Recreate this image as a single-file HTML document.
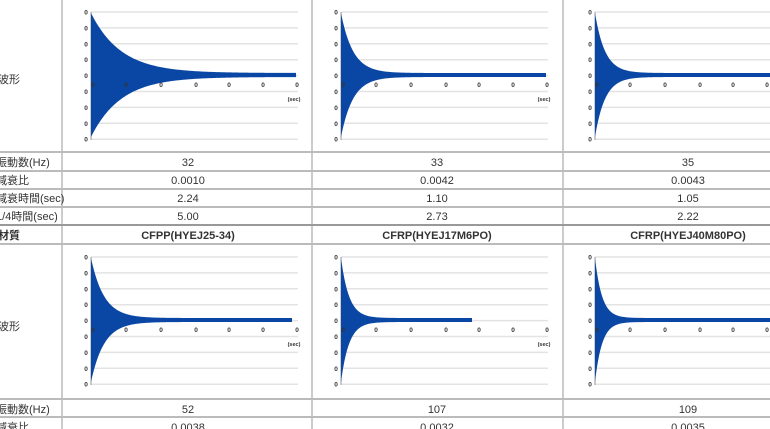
<!DOCTYPE html>
<html><head><meta charset="utf-8"><style>
html,body{margin:0;padding:0;background:#fff;width:770px;height:429px;overflow:hidden}
svg{display:block}
text{font-family:"Liberation Sans","Noto Sans CJK JP",sans-serif}
</style></head><body>
<svg id="s" width="770" height="429" xmlns="http://www.w3.org/2000/svg">
<g stroke="#999" stroke-width="1">
<line x1="62" y1="0" x2="62" y2="429"/><line x1="312" y1="0" x2="312" y2="429"/><line x1="563" y1="0" x2="563" y2="429"/>
</g>
<g stroke="#bbb" stroke-width="2">
<line x1="0" y1="152" x2="770" y2="152"/><line x1="0" y1="171" x2="770" y2="171"/><line x1="0" y1="189" x2="770" y2="189"/><line x1="0" y1="207" x2="770" y2="207"/>
<line x1="0" y1="225" x2="770" y2="225" stroke="#999"/><line x1="0" y1="244" x2="770" y2="244"/><line x1="0" y1="399" x2="770" y2="399"/><line x1="0" y1="417" x2="770" y2="417"/>
</g>
<g font-size="11" fill="#333">
<text x="-2" y="83">波形</text><text x="-2" y="330">波形</text>
<text x="-4" y="166">振動数(Hz)</text><text x="-4" y="184">減衰比</text><text x="-4" y="202">減衰時間(sec)</text><text x="-4" y="220">1/4時間(sec)</text>
<text x="-2" y="239" font-weight="bold">材質</text>
<text x="-4" y="413">振動数(Hz)</text><text x="-4" y="431">減衰比</text>
</g>
<g font-size="11" fill="#333" text-anchor="middle">
<text x="188" y="166">32</text><text x="188" y="184">0.0010</text><text x="188" y="202">2.24</text><text x="188" y="220">5.00</text>
<text x="437" y="166">33</text><text x="437" y="184">0.0042</text><text x="437" y="202">1.10</text><text x="437" y="220">2.73</text>
<text x="688" y="166">35</text><text x="688" y="184">0.0043</text><text x="688" y="202">1.05</text><text x="688" y="220">2.22</text>
<g font-weight="bold"><text x="188" y="239">CFPP(HYEJ25-34)</text><text x="437" y="239">CFRP(HYEJ17M6PO)</text><text x="688" y="239">CFRP(HYEJ40M80PO)</text></g>
<text x="188" y="413">52</text><text x="437" y="413">107</text><text x="688" y="413">109</text>
<text x="188" y="431">0.0038</text><text x="437" y="431">0.0032</text><text x="688" y="431">0.0035</text>
</g>
<g id="charts"></g>
</svg>
<script>
var g=document.getElementById('charts'),h='';
var cfg=[[0,0,30,296],[250,0,12,296],[504,0,10,300],[0,245,13,292],[250,245,8,222],[504,245,7,300]];
cfg.forEach(function(c){
 var dx=c[0],dy=c[1],tau=c[2],end=c[3]+dx,ax=91+dx;
 for(var i=0;i<9;i++){var y=12+dy+i*15.9;
  h+='<line x1="'+(ax)+'" y1="'+y+'" x2="'+(298+dx)+'" y2="'+y+'" stroke="#e3e3e3" stroke-width="1.5"/>';
  h+='<text x="'+(86+dx)+'" y="'+(y+2.5)+'" font-size="6.5" font-weight="bold" fill="#333" text-anchor="middle">0</text>';}
 h+='<line x1="'+ax+'" y1="'+(12+dy)+'" x2="'+ax+'" y2="'+(140+dy)+'" stroke="#999" stroke-width="1"/>';
 var cy=75+dy,up='',dn='';
 for(var x=ax;x<=end;x+=1){var a=60*Math.exp(-(x-ax)/tau)+2;up+=x+','+(cy-a)+' ';dn=x+','+(cy+a)+' '+dn;}
 h+='<polygon points="'+up+dn+'" fill="#0a47a5"/>';
 [93,126,161,196,229,263,297].forEach(function(x){h+='<text x="'+(x+dx)+'" y="'+(87+dy)+'" font-size="6.5" font-weight="bold" fill="#333" text-anchor="middle">0</text>';});
 h+='<text x="'+(294+dx)+'" y="'+(101+dy)+'" font-size="5.5" font-weight="bold" fill="#333" text-anchor="middle">(sec)</text>';
});
g.innerHTML=h;
</script>
</body></html>
